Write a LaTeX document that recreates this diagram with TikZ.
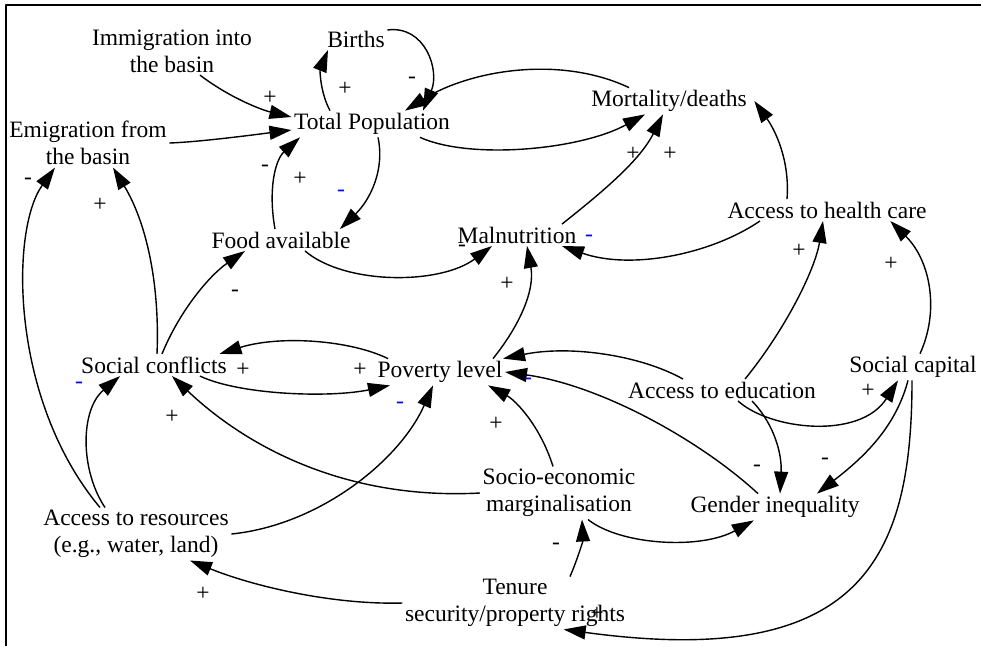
\documentclass[tikz,border=0pt]{standalone}
\usepackage{fontspec}
\setmainfont{Liberation Serif}
\usetikzlibrary{arrows.meta}
\definecolor{signblue}{RGB}{0,0,255}
\tikzset{var/.style={inner sep=2pt,align=center}}
\tikzset{sign/.style={inner sep=0pt}}
\tikzset{bluesign/.style={inner sep=0pt,text=signblue}}
\begin{document}
\begin{tikzpicture}[>={Triangle[length=22pt,width=14pt]},line join=bevel,x=1pt,y=-1pt,line width=1.4pt,font=\fontsize{23.5}{27}\selectfont]
    %%
    \useasboundingbox (0,0) rectangle (981,646);
    \draw [line width=1.2pt] (6,646) -- (6,5) -- (981,5);
    %%
    \node (imm) at (172,51) [var] {Immigration into\\the basin};
    \node (births) at (356,39) [var] {Births};
    \node (tp) at (372,124) [var] {Total Population};
    \node (emi) at (88,143) [var] {Emigration from\\the basin};
    \node (mort) at (669,101) [var] {Mortality/deaths};
    \node (food) at (281,240) [var] {Food available};
    \node (maln) at (517,235) [var] {Malnutrition};
    \node (ahc) at (827,210) [var] {Access to health care};
    \node (sc) at (154,365) [var] {Social conflicts};
    \node (pov) at (440,372) [var] {Poverty level};
    \node (aed) at (722,390) [var] {Access to education};
    \node (scap) at (913,367) [var] {Social capital};
    \node (sem) at (559,493) [var] {Socio-economic\\marginalisation};
    \node (gi) at (775,507) [var] {Gender inequality};
    \node (ares) at (136,534) [var] {Access to resources\\(e.g., water, land)};
    \node (ten) at (515,603) [var] {Tenure\\security/property rights};
    %%
    \draw [->] ([xshift=28pt]imm.south) .. controls (230,98) and (262,110) .. ([yshift=7pt]tp.west);
    \draw [->] (emi.east) .. controls (200,142) and (260,134) .. ([yshift=-6pt]tp.west);
    \draw [->] ([xshift=-42pt]tp.north) .. controls (320,92) and (320,70) .. ([xshift=-28pt]births.south);
    \draw [->] ([yshift=9pt]births.east) .. controls (425,25) and (440,70) .. ([xshift=51pt]tp.north);
    \draw [->] ([xshift=-40pt]mort.north) .. controls (560,55) and (470,70) .. ([xshift=33pt]tp.north);
    \draw [->] ([xshift=48pt]tp.south) .. controls (470,160) and (580,150) .. ([xshift=-24pt]mort.south);
    \draw [->] ([xshift=45pt]maln.north) .. controls (605,190) and (640,160) .. ([xshift=-6pt]mort.south);
    \draw [->] ([xshift=-40pt]ahc.north) .. controls (790,160) and (775,130) .. ([xshift=5pt]mort.east);
    \draw [->] ([xshift=6pt]tp.south) .. controls (385,170) and (370,200) .. ([xshift=59pt]food.north);
    \draw [->] ([xshift=-6pt]food.north) .. controls (268,190) and (275,160) .. ([xshift=-72pt]tp.south);
    \draw [->] ([xshift=24pt]food.south) .. controls (345,285) and (440,285) .. ([xshift=-25pt]maln.south);
    \draw [->] ([xshift=-67pt]ahc.south) .. controls (710,255) and (630,270) .. ([xshift=45pt]maln.south);
    \draw [->] ([xshift=53pt]pov.north) .. controls (520,325) and (535,290) .. ([xshift=10pt]maln.south);
    \draw [->] ([xshift=3pt]sc.north) .. controls (160,280) and (145,220) .. ([xshift=25pt]emi.south);
    \draw [->] ([xshift=-36pt]ares.north) .. controls (10,400) and (10,230) .. ([xshift=-33pt]emi.south);
    \draw [->] ([xshift=8pt]sc.north) .. controls (180,310) and (210,275) .. ([xshift=-36pt]food.south);
    \draw [->] ([xshift=-52pt]pov.north) .. controls (350,340) and (280,335) .. ([xshift=-10pt]sc.north east);
    \draw [->] ([xshift=46pt]sc.south) .. controls (240,395) and (330,398) .. ([xshift=15pt]pov.south west);
    \draw [->] ([xshift=-31pt]ares.north) .. controls (80,470) and (80,410) .. ([xshift=-34pt]sc.south);
    \draw [->] (sem.west) .. controls (350,500) and (250,450) .. ([xshift=18pt]sc.south);
    \draw [->] (ares.east) .. controls (320,525) and (400,460) .. ([xshift=-7pt]pov.south);
    \draw [->] ([xshift=-6pt]sem.north) .. controls (540,425) and (515,400) .. ([xshift=-17pt]pov.south east);
    \draw [->] ([xshift=-39pt]aed.north) .. controls (640,355) and (570,345) .. ([xshift=-2pt]pov.north east);
    \draw [->] ([xshift=-17pt]gi.north) .. controls (700,440) and (600,385) .. (pov.east);
    \draw [->] ([xshift=23pt]aed.north) .. controls (785,330) and (815,270) .. ([xshift=-4pt]ahc.south);
    \draw [->] ([xshift=7pt]scap.north) .. controls (940,310) and (930,260) .. ([xshift=-39pt]ahc.south east);
    \draw [->] ([xshift=16pt]aed.south) .. controls (770,430) and (860,440) .. ([xshift=-15pt]scap.south);
    \draw [->] ([xshift=30pt]aed.south) .. controls (775,425) and (782,455) .. ([xshift=5pt]gi.north);
    \draw [->] ([xshift=-5pt]scap.south) .. controls (895,430) and (860,460) .. ([xshift=42pt]gi.north);
    \draw [->] ([xshift=-1pt]scap.south) .. controls (912,560) and (860,670) .. ([xshift=-64pt]ten.south east);
    \draw [->] ([xshift=29pt]sem.south) .. controls (620,545) and (700,550) .. ([xshift=66pt]gi.south west);
    \draw [->] ([xshift=55pt]ten.north) .. controls (578,558) and (583,540) .. ([xshift=23pt]sem.south);
    \draw [->] (ten.west) .. controls (330,605) and (250,585) .. ([xshift=54pt]ares.south);
    %% polarity signs
    \node (p1) at (270,98) [sign] {+};
    \node (p2) at (345,89) [sign] {+};
    \node (p3) at (300,179) [sign] {+};
    \node (p4) at (100,205) [sign] {+};
    \node (p5) at (633,154) [sign] {+};
    \node (p6) at (670,154) [sign] {+};
    \node (p7) at (507,284) [sign] {+};
    \node (p8) at (243,370) [sign] {+};
    \node (p9) at (360,370) [sign] {+};
    \node (p10) at (172,417) [sign] {+};
    \node (p11) at (496,424) [sign] {+};
    \node (p12) at (799,251) [sign] {+};
    \node (p13) at (891,264) [sign] {+};
    \node (p14) at (868,391) [sign] {+};
    \node (p15) at (203,594) [sign] {+};
    \node (p16) at (597,614) [sign] {+};
    \node (m1) at (412,80) [sign] {-};
    \node (m2) at (265,168) [sign] {-};
    \node (m3) at (28,181) [sign] {-};
    \node (m4) at (235,293) [sign] {-};
    \node (m5) at (462,248) [sign] {-};
    \node (m6) at (757,468) [sign] {-};
    \node (m7) at (825,461) [sign] {-};
    \node (m8) at (556,546) [sign] {-};
    \node (b1) at (341,193) [bluesign] {-};
    \node (b2) at (589,238) [bluesign] {-};
    \node (b3) at (79,385) [bluesign] {-};
    \node (b4) at (400,405) [bluesign] {-};
    \node (b5) at (528,381) [bluesign] {-};
    %
\end{tikzpicture}
\end{document}
